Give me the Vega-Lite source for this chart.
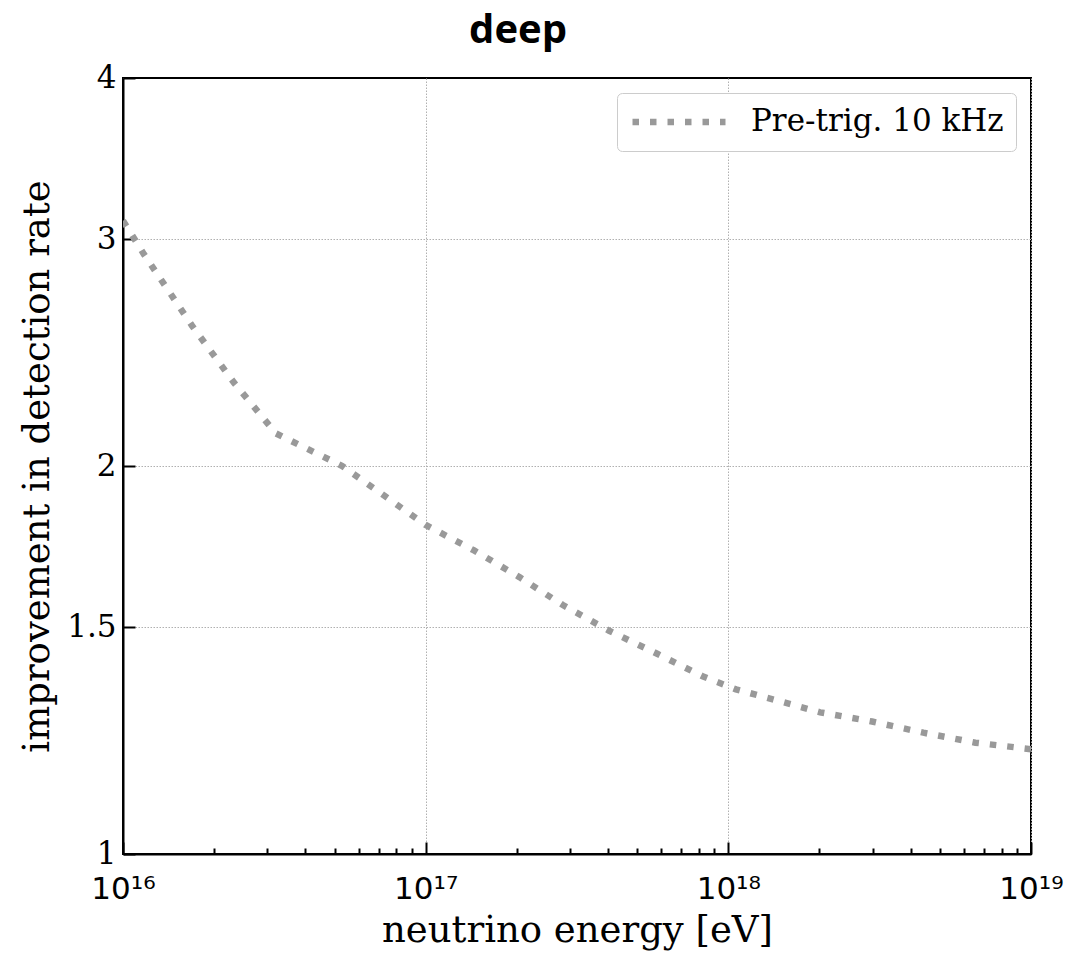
{
  "$schema": "https://vega.github.io/schema/vega-lite/v6.json",
  "autosize": "none",
  "padding": {"left": 123, "top": 78, "right": 61, "bottom": 99},
  "width": 908,
  "height": 776,
  "background": "white",
  "title": {
    "text": "deep",
    "frame": "group",
    "anchor": "middle",
    "dx": -59,
    "offset": 11,
    "font": "Open Sans",
    "fontSize": 40,
    "fontWeight": "bold",
    "color": "black"
  },
  "data": {
    "values": [
      {"energy": 1e16, "improvement": 3.10, "series": "Pre-trig. 10 kHz"},
      {"energy": 1.172e16, "improvement": 2.92, "series": "Pre-trig. 10 kHz"},
      {"energy": 1.69e16, "improvement": 2.57, "series": "Pre-trig. 10 kHz"},
      {"energy": 2.33e16, "improvement": 2.32, "series": "Pre-trig. 10 kHz"},
      {"energy": 3.2e16, "improvement": 2.12, "series": "Pre-trig. 10 kHz"},
      {"energy": 5.3e16, "improvement": 2.00, "series": "Pre-trig. 10 kHz"},
      {"energy": 1.0e17, "improvement": 1.80, "series": "Pre-trig. 10 kHz"},
      {"energy": 1.445e17, "improvement": 1.72, "series": "Pre-trig. 10 kHz"},
      {"energy": 2.04e17, "improvement": 1.64, "series": "Pre-trig. 10 kHz"},
      {"energy": 2.84e17, "improvement": 1.56, "series": "Pre-trig. 10 kHz"},
      {"energy": 4.04e17, "improvement": 1.49, "series": "Pre-trig. 10 kHz"},
      {"energy": 5.82e17, "improvement": 1.43, "series": "Pre-trig. 10 kHz"},
      {"energy": 8.26e17, "improvement": 1.373, "series": "Pre-trig. 10 kHz"},
      {"energy": 1.06e18, "improvement": 1.342, "series": "Pre-trig. 10 kHz"},
      {"energy": 1.374e18, "improvement": 1.32, "series": "Pre-trig. 10 kHz"},
      {"energy": 2.01e18, "improvement": 1.288, "series": "Pre-trig. 10 kHz"},
      {"energy": 2.985e18, "improvement": 1.267, "series": "Pre-trig. 10 kHz"},
      {"energy": 4.41e18, "improvement": 1.242, "series": "Pre-trig. 10 kHz"},
      {"energy": 6.55e18, "improvement": 1.22, "series": "Pre-trig. 10 kHz"},
      {"energy": 1e19, "improvement": 1.206, "series": "Pre-trig. 10 kHz"}
    ]
  },
  "mark": {
    "type": "line",
    "strokeWidth": 6.5,
    "strokeDash": [6.5, 11],
    "strokeCap": "butt",
    "clip": true
  },
  "encoding": {
    "x": {
      "field": "energy",
      "type": "quantitative",
      "scale": {"type": "log", "domain": [1e16, 1e19], "nice": false},
      "axis": {
        "title": "neutrino energy [eV]",
        "values": [1e16, 2e16, 3e16, 4e16, 5e16, 6e16, 7e16, 8e16, 9e16, 1e17, 2e17, 3e17, 4e17, 5e17, 6e17, 7e17, 8e17, 9e17, 1e18, 2e18, 3e18, 4e18, 5e18, 6e18, 7e18, 8e18, 9e18, 1e19],
        "labelExpr": "abs(log(datum.value)/LN10 - round(log(datum.value)/LN10)) < 0.001 ? ({'16': '10¹⁶', '17': '10¹⁷', '18': '10¹⁸', '19': '10¹⁹'})[toString(round(log(datum.value)/LN10))] : ''",
        "labelFont": "DejaVu Sans",
        "labelFontSize": 31,
        "labelPadding": 32,
        "labelFlush": false,
        "labelOverlap": false,
        "labelBound": false,
        "tickSize": {"condition": {"test": "abs(log(datum.value)/LN10 - round(log(datum.value)/LN10)) > 0.001", "value": -6}, "value": -12},
        "gridOpacity": {"condition": {"test": "abs(log(datum.value)/LN10 - round(log(datum.value)/LN10)) < 0.001", "value": 1}, "value": 0},
        "titlePadding": 2
      }
    },
    "y": {
      "field": "improvement",
      "type": "quantitative",
      "scale": {"type": "log", "domain": [1, 4], "nice": false},
      "axis": {
        "title": "improvement in detection rate",
        "values": [1, 1.5, 2, 3, 4],
        "labelExpr": "format(datum.value, '~g')",
        "labelFont": "DejaVu Serif",
        "labelFontSize": 31,
        "labelPadding": 19,
        "labelFlush": false,
        "labelOverlap": false,
        "labelBound": false,
        "tickSize": -12,
        "gridOpacity": {"condition": {"test": "datum.value > 1.01 && datum.value < 3.99", "value": 1}, "value": 0},
        "titlePadding": 10
      }
    },
    "color": {
      "field": "series",
      "type": "nominal",
      "scale": {"range": ["#999999"]},
      "legend": {
        "title": null,
        "orient": "top-right",
        "offset": 15,
        "padding": 12,
        "clipHeight": 34,
        "fillColor": "white",
        "strokeColor": "#cccccc",
        "cornerRadius": 5,
        "symbolType": "stroke",
        "symbolSize": 8649,
        "symbolStrokeWidth": 6.5,
        "symbolDash": [6.5, 11],
        "symbolStrokeColor": "#999999",
        "labelFont": "DejaVu Serif",
        "labelFontSize": 31,
        "labelColor": "black",
        "labelOffset": 22,
        "labelLimit": 0
      }
    }
  },
  "config": {
    "view": {"stroke": "black", "strokeWidth": 2},
    "axis": {
      "domain": true,
      "domainColor": "black",
      "domainWidth": 2,
      "tickColor": "black",
      "tickWidth": 2,
      "labelColor": "black",
      "grid": true,
      "gridColor": "#b0b0b0",
      "gridWidth": 1,
      "gridDash": [1.5, 1.5],
      "titleFont": "DejaVu Serif",
      "titleFontSize": 37,
      "titleFontWeight": "normal",
      "titleColor": "black"
    }
  }
}
